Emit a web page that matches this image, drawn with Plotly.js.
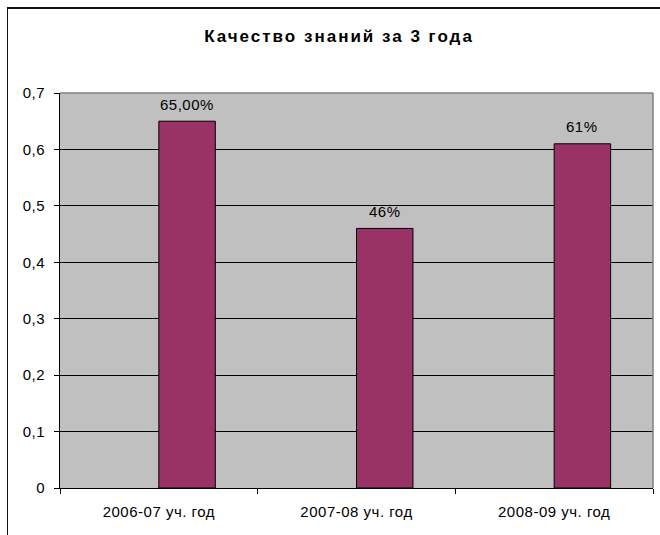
<!DOCTYPE html>
<html>
<head>
<meta charset="utf-8">
<script src="https://cdn.plot.ly/plotly-3.0.1.min.js"></script>
<style>
  html, body { margin: 0; padding: 0; overflow: hidden; background: #fff; }
  #wrap { position: relative; width: 660px; height: 535px; }
  #chart { position: absolute; left: 0; top: 0; width: 660px; height: 535px; }
  #frame { position: absolute; left: 7px; top: 7px; width: 700px; height: 600px;
           border-top: 2px solid #111; border-left: 1px solid #111; pointer-events: none; }
  .xtick text, .ytick text { letter-spacing: 0.5px; }
  .annotation-text { letter-spacing: 0.5px; }
  .gtitle { letter-spacing: 2px; }
</style>
</head>
<body>
<div id="wrap">
  <div id="chart"></div>
  <div id="frame"></div>
</div>
<script>
const categories = ["2006-07 уч. год", "2007-08 уч. год", "2008-09 уч. год"];
const values = [0.65, 0.46, 0.61];
const valueLabels = ["65,00%", "46%", "61%"];
const yTickValues = [0, 0.1, 0.2, 0.3, 0.4, 0.5, 0.6, 0.7];

const barWidth = 2 / 7;
const fontFam = "Liberation Sans, Arial, sans-serif";

const trace = {
  type: "bar",
  x: categories,
  y: values,
  width: categories.map(() => barWidth),
  offset: categories.map(() => 0),
  marker: { color: "#993366", line: { color: "#000", width: 1 } },
  hoverinfo: "none"
};

const annotations = values.map((v, i) => ({
  x: i + barWidth / 2,
  y: v,
  xref: "x",
  yref: "y",
  text: valueLabels[i],
  showarrow: false,
  yanchor: "middle",
  xanchor: "center",
  yshift: 17,
  font: { family: fontFam, size: 15, color: "#000" }
}));

const layout = {
  width: 660,
  height: 535,
  margin: { l: 60, r: 7, t: 93, b: 47 },
  paper_bgcolor: "#fff",
  plot_bgcolor: "#C0C0C0",
  separators: ", ",
  showlegend: false,
  title: {
    text: "Качество знаний за 3 года",
    font: { family: fontFam, size: 17, color: "#000", weight: "bold" },
    xref: "container", yref: "container",
    x: 339 / 660, xanchor: "center",
    y: 1 - 36 / 535, yanchor: "middle"
  },
  xaxis: {
    type: "category",
    showline: true, linecolor: "#000", linewidth: 1,
    ticks: "outside", tickson: "boundaries", ticklen: 5, tickcolor: "#000", tickwidth: 1,
    showgrid: false, zeroline: false,
    ticklabelstandoff: 10,
    tickfont: { family: fontFam, size: 15, color: "#000" },
    range: [-0.5, 2.5]
  },
  yaxis: {
    range: [0, 0.7],
    tickvals: yTickValues,
    showline: true, linecolor: "#000", linewidth: 1,
    ticks: "outside", ticklen: 5, tickcolor: "#000", tickwidth: 1,
    showgrid: true, gridcolor: "#000", gridwidth: 1,
    zeroline: false,
    ticklabelstandoff: 6,
    tickfont: { family: fontFam, size: 15, color: "#000" }
  },
  shapes: [
    { type: "line", xref: "paper", yref: "paper", x0: 0, x1: 1, y0: 1, y1: 1,
      line: { color: "#808080", width: 1.5 }, layer: "above" },
    { type: "line", xref: "paper", yref: "paper", x0: 1, x1: 1, y0: 0, y1: 1,
      line: { color: "#808080", width: 1.5 }, layer: "above" }
  ],
  annotations: annotations
};

Plotly.newPlot("chart", [trace], layout, { displayModeBar: false, staticPlot: true });
</script>
</body>
</html>
